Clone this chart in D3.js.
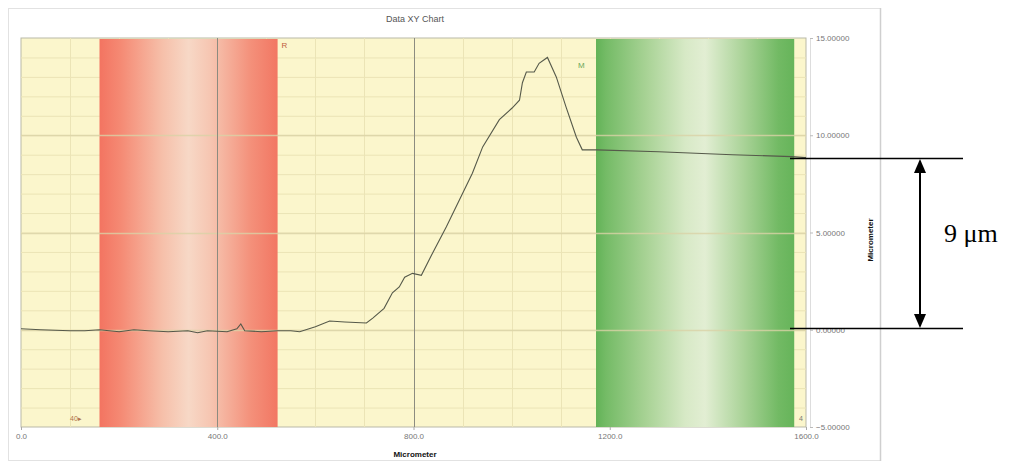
<!DOCTYPE html>
<html>
<head>
<meta charset="utf-8">
<script src="https://cdn.jsdelivr.net/npm/d3@7"></script>
<style>
  body { margin: 0; background: #fff; }
  svg { display: block; }
</style>
</head>
<body>
<div id="chart"></div>
<script>
// profile trace (x in micrometer, height in micrometer)
var profileX = [0, 40, 100, 130, 160, 200, 230, 260, 300, 340, 360, 380, 420, 440, 448, 456, 490, 523, 550, 568,
  600, 629, 660, 704, 717, 740, 757, 771, 782, 798, 816, 839, 867, 894, 920, 941, 975, 1001, 1016,
  1022, 1030, 1046, 1056, 1073, 1091, 1111, 1132, 1144, 1173, 1300, 1450, 1571, 1600];
var profileY = [0.05, 0.0, -0.05, -0.05, 0.0, -0.1, 0.0, -0.05, -0.1, -0.05, -0.15, -0.05, -0.1, 0.05, 0.3, -0.05, -0.1, -0.05, -0.05, -0.1,
  0.15, 0.45, 0.4, 0.35, 0.6, 1.1, 1.9, 2.2, 2.7, 2.9, 2.8, 3.95, 5.3, 6.7, 8.05, 9.4, 10.8, 11.4, 11.8,
  12.7, 13.25, 13.25, 13.7, 14.0, 13.0, 11.45, 9.9, 9.25, 9.25, 9.15, 9.0, 8.9, 8.85];

var xTicks = [0, 400, 800, 1200, 1600];
var yTicks = [-5, 0, 5, 10, 15];

// marked regions: R (reference) and M (measure)
var bandNames = ["R", "M"];
var bandStart = [160, 1172];
var bandEnd = [523, 1576];

var annotLow = 0, annotHigh = 8.85, annotText = "9 μm";

var W = 1011, H = 463;
var m = { left: 21, right: 806, top: 38, bottom: 427 };

var svg = d3.select("#chart").append("svg").attr("width", W).attr("height", H);

var x = d3.scaleLinear().domain([0, 1600]).range([m.left, m.right]);
var y = d3.scaleLinear().domain([-5, 15]).range([m.bottom, m.top]);

var defs = svg.append("defs");
var red = defs.append("linearGradient").attr("id", "gRed");
[[0, "#f37461"], [0.12, "#f58a74"], [0.35, "#f6bfa9"], [0.5, "#f7d8c6"], [0.62, "#f6c6b2"], [0.85, "#f4907a"], [1, "#f27763"]]
  .forEach(function(s) { red.append("stop").attr("offset", s[0]).attr("stop-color", s[1]); });
var green = defs.append("linearGradient").attr("id", "gGreen");
[[0, "#62b257"], [0.05, "#74bb66"], [0.25, "#a7d294"], [0.45, "#d7e9c6"], [0.55, "#e2eed3"], [0.75, "#a8d296"], [0.92, "#72ba64"], [1, "#66b45a"]]
  .forEach(function(s) { green.append("stop").attr("offset", s[0]).attr("stop-color", s[1]); });

// panel frame
svg.append("rect").attr("x", 8.5).attr("y", 8.5).attr("width", 872).attr("height", 452)
  .attr("fill", "#fff").attr("stroke", "#e2e2e2");
svg.append("line").attr("x1", 880.5).attr("x2", 880.5).attr("y1", 8).attr("y2", 461)
  .attr("stroke", "#cfcfcf").attr("stroke-width", 1.5);

svg.append("text").attr("x", 415).attr("y", 22).attr("text-anchor", "middle")
  .attr("font-family", "Liberation Sans, Arial, sans-serif").attr("font-size", 9).attr("fill", "#555")
  .text("Data XY Chart");

// plot background
svg.append("rect").attr("x", m.left).attr("y", m.top)
  .attr("width", m.right - m.left).attr("height", m.bottom - m.top)
  .attr("fill", "#fbf6cc").attr("stroke", "#b9b9a8");

// minor grid
var g = svg.append("g");
g.selectAll(".hmin").data(d3.range(-4, 15)).enter().append("line")
  .attr("x1", m.left).attr("x2", m.right)
  .attr("y1", function(d) { return y(d) + 0.5; }).attr("y2", function(d) { return y(d) + 0.5; })
  .attr("stroke", "#ebe4b6").attr("stroke-width", 1);
g.selectAll(".vmin").data(d3.range(100, 1600, 100)).enter().append("line")
  .attr("y1", m.top).attr("y2", m.bottom)
  .attr("x1", function(d) { return Math.round(x(d)) + 0.5; }).attr("x2", function(d) { return Math.round(x(d)) + 0.5; })
  .attr("stroke", "#ebe4b6");

// bands
svg.selectAll(".band").data(bandNames).enter().append("rect")
  .attr("x", function(d, i) { return x(bandStart[i]); })
  .attr("width", function(d, i) { return x(bandEnd[i]) - x(bandStart[i]); })
  .attr("y", m.top + 1).attr("height", m.bottom - m.top - 1)
  .attr("fill", function(d, i) { return i == 0 ? "url(#gRed)" : "url(#gGreen)"; });

// major grid
svg.selectAll(".hmaj").data([0, 5, 10]).enter().append("line")
  .attr("x1", m.left).attr("x2", m.right)
  .attr("y1", function(d) { return Math.round(y(d)) + 0.5; }).attr("y2", function(d) { return Math.round(y(d)) + 0.5; })
  .attr("stroke", "#d9d2a6").attr("stroke-opacity", 0.8).attr("stroke-width", 1.5);
svg.selectAll(".vmaj").data([400, 800]).enter().append("line")
  .attr("y1", m.top).attr("y2", m.bottom)
  .attr("x1", function(d) { return Math.round(x(d)) + 0.5; }).attr("x2", function(d) { return Math.round(x(d)) + 0.5; })
  .attr("stroke", "#8c8c80");

// band labels
svg.append("text").attr("x", x(bandEnd[0]) + 4).attr("y", 48).attr("font-size", 8)
  .attr("font-family", "Liberation Sans, Arial, sans-serif").attr("fill", "#c0603e").text(bandNames[0]);
svg.append("text").attr("x", x(bandStart[1]) - 18).attr("y", 68).attr("font-size", 8)
  .attr("font-family", "Liberation Sans, Arial, sans-serif").attr("fill", "#6aa85a").text(bandNames[1]);
svg.append("text").attr("x", 70).attr("y", 421).attr("font-size", 7)
  .attr("font-family", "Liberation Sans, Arial, sans-serif").attr("fill", "#b0724a").text("40\u25B8");
svg.append("text").attr("x", 799).attr("y", 421).attr("font-size", 7)
  .attr("font-family", "Liberation Sans, Arial, sans-serif").attr("fill", "#777").text("4");

// profile line
var line = d3.line().x(function(d) { return x(d); }).y(function(d, i) { return y(profileY[i]); });
svg.append("path").attr("d", line(profileX))
  .attr("fill", "none").attr("stroke", "#55594a").attr("stroke-width", 1.1);

// axes
var xAxis = d3.axisBottom(x).tickValues(xTicks).tickSize(3).tickFormat(d3.format(".1f"));
var gx = svg.append("g").attr("transform", "translate(0," + m.bottom + ")").call(xAxis);
gx.select(".domain").remove();
gx.selectAll("line").attr("stroke", "#aaa");
gx.selectAll("text").attr("font-family", "Liberation Sans, Arial, sans-serif").attr("font-size", 8).attr("fill", "#777");

var yAxis = d3.axisRight(y).tickValues(yTicks).tickSize(3).tickFormat(d3.format(".5f"));
var gy = svg.append("g").attr("transform", "translate(" + (m.right + 4) + ",0)").call(yAxis);
gy.select(".domain").attr("stroke", "#ddd");
gy.selectAll("line").attr("stroke", "#bbb");
gy.selectAll("text").attr("font-family", "Liberation Sans, Arial, sans-serif").attr("font-size", 8).attr("fill", "#777");

svg.append("text").attr("x", 415).attr("y", 457).attr("text-anchor", "middle")
  .attr("font-family", "Liberation Sans, Arial, sans-serif").attr("font-size", 8).attr("font-weight", "bold")
  .attr("fill", "#111").text("Micrometer");
svg.append("text").attr("transform", "translate(873,240) rotate(-90)").attr("text-anchor", "middle")
  .attr("font-family", "Liberation Sans, Arial, sans-serif").attr("font-size", 8).attr("font-weight", "bold")
  .attr("fill", "#111").text("Micrometer");

// thickness annotation
var yHi = Math.round(y(annotHigh)), yLo = Math.round(y(annotLow)) - 2;
[yHi, yLo].forEach(function(v) {
  svg.append("line").attr("x1", 790).attr("x2", 963).attr("y1", v + 0.5).attr("y2", v + 0.5)
    .attr("stroke", "#000").attr("stroke-width", 1.3);
});
var ax = 920;
svg.append("line").attr("x1", ax).attr("x2", ax).attr("y1", yHi + 12).attr("y2", yLo - 12)
  .attr("stroke", "#000").attr("stroke-width", 2);
svg.append("path").attr("d", "M" + ax + "," + (yHi + 1) + "L" + (ax - 6) + "," + (yHi + 15) + "L" + (ax + 6) + "," + (yHi + 15) + "Z");
svg.append("path").attr("d", "M" + ax + "," + (yLo) + "L" + (ax - 6) + "," + (yLo - 14) + "L" + (ax + 6) + "," + (yLo - 14) + "Z");
svg.append("text").attr("x", 944).attr("y", 242)
  .attr("font-family", "Liberation Serif, Times New Roman, serif").attr("font-size", 26)
  .attr("fill", "#000").text(annotText);
</script>
</body>
</html>
